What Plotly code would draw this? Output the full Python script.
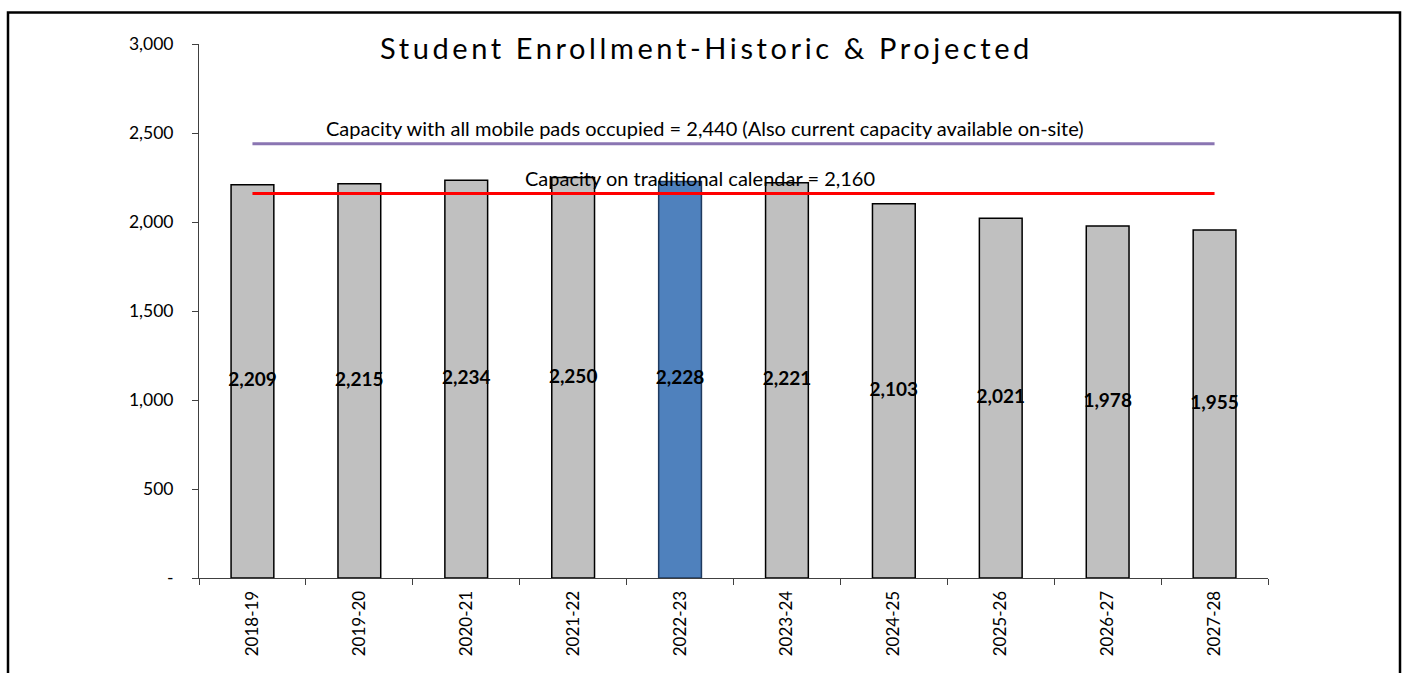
import plotly.graph_objects as go

# Enrollment by school year
years = ["2018-19", "2019-20", "2020-21", "2021-22", "2022-23",
         "2023-24", "2024-25", "2025-26", "2026-27", "2027-28"]
enrollment = [2209, 2215, 2234, 2250, 2228, 2221, 2103, 2021, 1978, 1955]
current_year = "2022-23"

# Capacity reference levels
capacity_mobile = 2440
capacity_traditional = 2160

y_tick_vals = [0, 500, 1000, 1500, 2000, 2500, 3000]
y_tick_text = ["-", "500", "1,000", "1,500", "2,000", "2,500", "3,000"]

title_text = "Student Enrollment-Historic & Projected"
mobile_text = "Capacity with all mobile pads occupied = 2,440 (Also current capacity available on-site)"
traditional_text = "Capacity on traditional calendar = 2,160"

W, H = 1408, 673
ML, MR, MT, MB = 199, 140, 44, 95
PW, PH = W - ML - MR, H - MT - MB


def px_x(x):
    return (x - ML) / PW


def px_y(y):
    return (H - MB - y) / PH


FONT = "Lato"

bar_colors = ["#4F81BD" if y == current_year else "#C0C0C0" for y in years]
bar_lines = ["#1F3A5F" if y == current_year else "#000000" for y in years]

fig = go.Figure()

fig.add_trace(go.Bar(
    x=years, y=enrollment, width=0.4,
    marker=dict(color=bar_colors, line=dict(color=bar_lines, width=1.5)),
    hoverinfo="x+y",
))

fig.add_trace(go.Scatter(
    x=years, y=[capacity_mobile] * len(years), mode="lines",
    line=dict(color="#8A75B2", width=3), hoverinfo="skip",
))

fig.add_trace(go.Scatter(
    x=years, y=[capacity_traditional] * len(years), mode="lines",
    line=dict(color="#FF0000", width=3), hoverinfo="skip",
))

# value labels centred in each bar
fig.add_trace(go.Scatter(
    x=years, y=[v / 2 for v in enrollment], mode="text",
    text=[f"{v:,}" for v in enrollment],
    textfont=dict(family=FONT, size=19, color="#000000", weight="bold"),
    textposition="middle center", hoverinfo="skip",
))

annotations = [
    dict(text=f'<span style="letter-spacing:3.6px">{title_text}</span>',
         xref="paper", yref="paper", x=px_x(706), y=px_y(47),
         xanchor="center", yanchor="middle", showarrow=False,
         font=dict(family=FONT, size=29, color="#000000")),
    dict(text=mobile_text, xref="paper", yref="paper",
         x=px_x(705), y=px_y(128), xanchor="center", yanchor="middle",
         showarrow=False, font=dict(family=FONT, size=20, color="#000000")),
    dict(text=traditional_text, xref="paper", yref="paper",
         x=px_x(700), y=px_y(178), xanchor="center", yanchor="middle",
         showarrow=False, font=dict(family=FONT, size=20, color="#000000")),
]

shapes = [
    dict(type="rect", xref="paper", yref="paper",
         x0=px_x(8), x1=px_x(1400), y0=px_y(720), y1=px_y(12.5),
         line=dict(color="#000000", width=2.5), fillcolor="rgba(0,0,0,0)",
         layer="above"),
]

fig.update_layout(
    width=W, height=H,
    margin=dict(l=ML, r=MR, t=MT, b=MB),
    paper_bgcolor="#FFFFFF", plot_bgcolor="#FFFFFF",
    showlegend=False,
    bargap=0.6,
    annotations=annotations,
    shapes=shapes,
    font=dict(family=FONT, size=17, color="#000000"),
    xaxis=dict(
        type="category", tickson="boundaries", ticks="outside", ticklen=6,
        tickcolor="#404040", showline=True, linecolor="#404040", linewidth=1,
        tickangle=-90, tickfont=dict(family=FONT, size=17, color="#000000"),
        showgrid=False, zeroline=False, ticklabelstandoff=5,
    ),
    yaxis=dict(
        range=[0, 3000], tickvals=y_tick_vals, ticktext=y_tick_text,
        ticks="outside", ticklen=6, tickcolor="#404040", showline=True,
        linecolor="#404040", linewidth=1, showgrid=False, zeroline=False,
        tickfont=dict(family=FONT, size=17.5, color="#000000"),
        ticklabelstandoff=15,
    ),
)

fig.write_html("out.html")
